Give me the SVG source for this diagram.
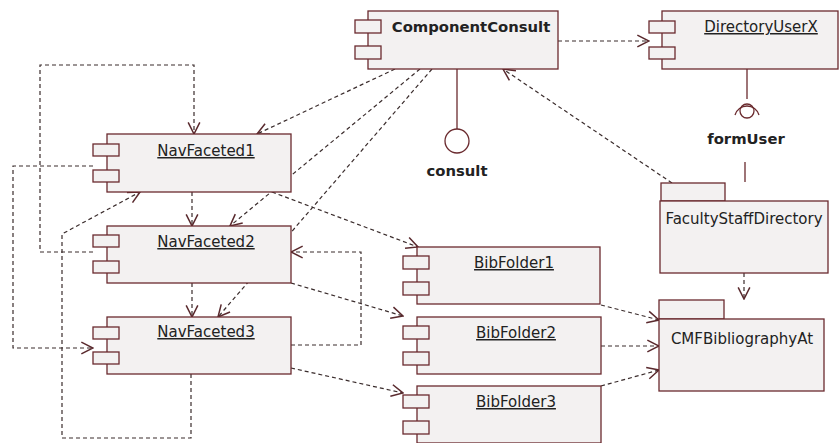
<svg xmlns="http://www.w3.org/2000/svg" width="840" height="443" viewBox="0 0 840 443">
<defs>
<style>
.box{fill:#f3f1f1;stroke:#6a2a2e;stroke-width:1.3}
.port{fill:#f3f1f1;stroke:#6a2a2e;stroke-width:1.3}
.solid{fill:none;stroke:#6a2a2e;stroke-width:1.3}
.dep{fill:none;stroke:#3a2c2c;stroke-width:1.2;stroke-dasharray:4,3;marker-end:url(#arr)}
.lbl{font-family:"DejaVu Sans","Liberation Sans",sans-serif;font-size:15px;fill:#222;text-anchor:middle}
.u{text-decoration:underline}
.b{font-weight:bold;font-size:14.8px}
</style>
<marker id="arr" markerUnits="userSpaceOnUse" markerWidth="14" markerHeight="14" viewBox="0 0 12 12" refX="11" refY="6" orient="auto">
<path d="M1,1 L11,6 L1,11" fill="none" stroke="#5a2a2e" stroke-width="1.3"/>
</marker>
</defs>
<rect width="840" height="443" fill="#ffffff"/>

<g id="connectors">
<path class="dep" d="M558,41 L649,41"/>
<path class="dep" d="M672,183 L503,69"/>
<path class="dep" d="M744,273 L744,299"/>
<path class="dep" d="M395,69 L257,134"/>
<path class="dep" d="M420,69 L230,226"/>
<path class="dep" d="M432,69 L218,317"/>
<path class="dep" d="M192,192 L192,226"/>
<path class="dep" d="M192,283 L192,317"/>
<path class="dep" d="M93,252 L40,252 L40,65 L194,65 L194,134"/>
<path class="dep" d="M93,166 L13,166 L13,348 L93,348"/>
<path class="dep" d="M191,374 L191,438 L62,438 L62,234 L140,192"/>
<path class="dep" d="M291,345 L361,345 L361,252 L291,252"/>
<path class="dep" d="M272,192 L418,247"/>
<path class="dep" d="M291,283 L403,316"/>
<path class="dep" d="M291,368 L403,393"/>
<path class="dep" d="M601,305 L659,320"/>
<path class="dep" d="M601,346 L659,346"/>
<path class="dep" d="M601,386 L659,370"/>
</g>

<g id="ComponentConsult">
<rect class="box" x="368" y="11" width="190" height="58"/>
<rect class="port" x="355" y="20" width="26" height="13"/>
<rect class="port" x="355" y="46" width="26" height="13"/>
<text class="lbl b" x="471" y="32">ComponentConsult</text>
</g>

<g id="consult">
<line class="solid" x1="457" y1="69" x2="457" y2="129"/>
<circle class="solid" cx="457" cy="141" r="12"/>
<text class="lbl b" x="457" y="176">consult</text>
</g>

<g id="DirectoryUserX">
<rect class="box" x="662" y="11" width="176" height="58"/>
<rect class="port" x="649" y="21" width="26" height="12"/>
<rect class="port" x="649" y="47" width="26" height="12"/>
<text class="lbl u" x="761" y="32">DirectoryUserX</text>
</g>

<g id="formUser">
<line class="solid" x1="747" y1="69" x2="747" y2="99"/>
<path class="solid" d="M735,115 A12.5,12.5 0 0 1 759,115"/>
<circle class="solid" cx="747" cy="111" r="7"/>
<text class="lbl b" x="746" y="144">formUser</text>
<line class="solid" x1="745" y1="162" x2="745" y2="182"/>
</g>

<g id="FacultyStaffDirectory">
<rect class="box" x="661" y="183" width="64" height="18"/>
<rect class="box" x="660" y="201" width="168" height="72"/>
<text class="lbl" x="744" y="224">FacultyStaffDirectory</text>
</g>

<g id="CMFBibliographyAt">
<rect class="box" x="659" y="300" width="65" height="19"/>
<rect class="box" x="659" y="319" width="165" height="72"/>
<text class="lbl" x="742" y="344">CMFBibliographyAt</text>
</g>

<g id="NavFaceted1">
<rect class="box" x="107" y="134" width="184" height="58"/>
<rect class="port" x="93" y="144" width="26" height="12"/>
<rect class="port" x="93" y="170" width="26" height="12"/>
<text class="lbl u" x="206" y="156">NavFaceted1</text>
</g>

<g id="NavFaceted2">
<rect class="box" x="107" y="226" width="184" height="57"/>
<rect class="port" x="93" y="235" width="26" height="12"/>
<rect class="port" x="93" y="261" width="26" height="12"/>
<text class="lbl u" x="206" y="247">NavFaceted2</text>
</g>

<g id="NavFaceted3">
<rect class="box" x="107" y="317" width="184" height="57"/>
<rect class="port" x="93" y="327" width="26" height="12"/>
<rect class="port" x="93" y="352" width="26" height="12"/>
<text class="lbl u" x="206" y="337">NavFaceted3</text>
</g>

<g id="BibFolder1">
<rect class="box" x="417" y="247" width="183" height="57"/>
<rect class="port" x="403" y="256" width="26" height="13"/>
<rect class="port" x="403" y="282" width="26" height="13"/>
<text class="lbl u" x="514" y="268">BibFolder1</text>
</g>

<g id="BibFolder2">
<rect class="box" x="417" y="317" width="184" height="57"/>
<rect class="port" x="403" y="326" width="26" height="13"/>
<rect class="port" x="403" y="352" width="26" height="13"/>
<text class="lbl u" x="516" y="338">BibFolder2</text>
</g>

<g id="BibFolder3">
<rect class="box" x="417" y="386" width="184" height="57"/>
<rect class="port" x="403" y="395" width="26" height="13"/>
<rect class="port" x="403" y="421" width="26" height="13"/>
<text class="lbl u" x="516" y="407">BibFolder3</text>
</g>
</svg>
